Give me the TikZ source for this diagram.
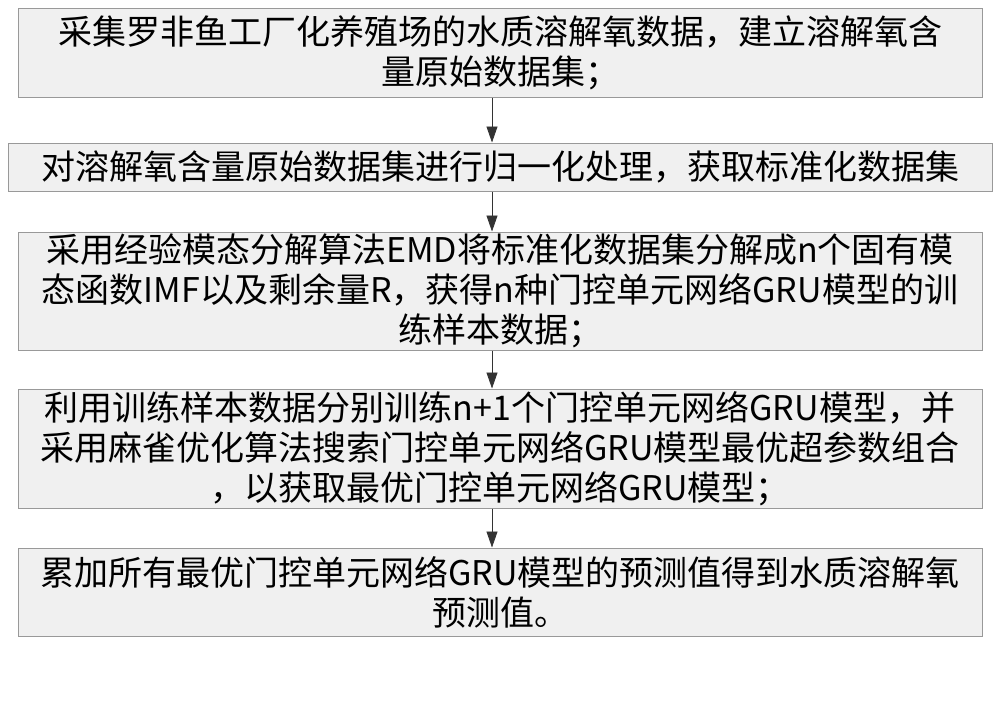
\documentclass[tikz,border=0pt]{standalone}
\usepackage{fontspec}
\newfontfamily\cjk{Noto Sans CJK SC}
\usetikzlibrary{arrows.meta}
\begin{document}
\begin{tikzpicture}[x=1pt,y=-1pt,
  stepbox/.style={draw=gray!80,fill=gray!12,line width=1pt,align=center,inner sep=0pt,
    font=\cjk\fontsize{34}{40}\selectfont},
  arr/.style={-{Triangle[length=16pt,width=11pt]},draw=gray!40!black,line width=0.8pt}]
\useasboundingbox (0,0) rectangle (1000,707);
\node[stepbox,minimum width=964pt,minimum height=89pt,text width=950pt] (b1) at (500,52.5) {采集罗非鱼工厂化养殖场的水质溶解氧数据，建立溶解氧含\\量原始数据集；};
\node[stepbox,minimum width=984pt,minimum height=48pt,text width=975pt] (b2) at (500,167) {对溶解氧含量原始数据集进行归一化处理，获取标准化数据集};
\node[stepbox,minimum width=964pt,minimum height=118pt,text width=950pt] (b3) at (500,291) {采用经验模态分解算法EMD将标准化数据集分解成n个固有模\\态函数IMF以及剩余量R，获得n种门控单元网络GRU模型的训\\练样本数据；};
\node[stepbox,minimum width=964pt,minimum height=119pt,text width=950pt] (b4) at (500,448.5) {利用训练样本数据分别训练n+1个门控单元网络GRU模型，并\\采用麻雀优化算法搜索门控单元网络GRU模型最优超参数组合\\，以获取最优门控单元网络GRU模型；};
\node[stepbox,minimum width=964pt,minimum height=88pt,text width=950pt] (b5) at (500,592) {累加所有最优门控单元网络GRU模型的预测值得到水质溶解氧\\预测值。};
\draw[arr] (b1.south -| 492,0) -- (b2.north -| 492,0);
\draw[arr] (b2.south -| 492,0) -- (b3.north -| 492,0);
\draw[arr] (b3.south -| 492,0) -- (b4.north -| 492,0);
\draw[arr] (b4.south -| 492,0) -- (b5.north -| 492,0);
\end{tikzpicture}
\end{document}
